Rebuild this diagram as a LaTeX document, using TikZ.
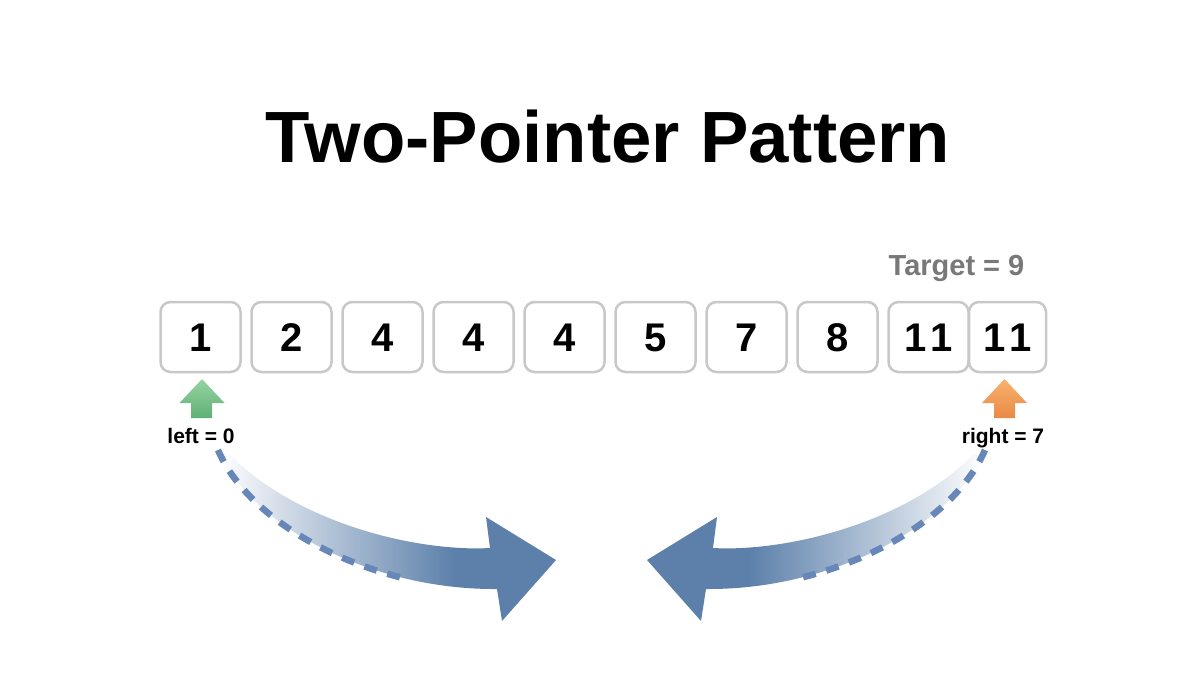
\documentclass[tikz,border=0pt]{standalone}
\usepackage{fontspec}
\setmainfont{Liberation Sans}
\definecolor{boxgray}{RGB}{200,200,200}
\definecolor{arrowblue}{RGB}{92,128,170}
\definecolor{dashblue}{RGB}{104,135,185}
\definecolor{targetgray}{RGB}{120,120,120}
\definecolor{greenA}{RGB}{150,212,160}
\definecolor{greenB}{RGB}{95,175,120}
\definecolor{orangeA}{RGB}{248,178,110}
\definecolor{orangeB}{RGB}{232,138,70}
\pgfdeclarehorizontalshading{arrowfade}{100bp}{color(0bp)=(white); color(25bp)=(white); color(60bp)=(arrowblue); color(100bp)=(arrowblue)}
\begin{document}
\begin{tikzpicture}[x=1pt,y=-1pt,
  cell/.style={draw=boxgray, line width=2.5pt, rounded corners=10pt, fill=white,
    minimum width=80pt, minimum height=70pt, inner sep=0pt,
    text height=28.6pt, text depth=0pt, font=\fontsize{40}{40}\selectfont\bfseries},
  ptrlabel/.style={anchor=base, font=\fontsize{21}{21}\selectfont\bfseries},
  dashpath/.style={draw=dashblue, line width=6.5pt, dash pattern=on 13pt off 11pt}
]
\fill[white] (0,0) rectangle (1200,686);
\useasboundingbox (0,0) rectangle (1200,686);

% title
\node[anchor=base, font=\fontsize{72.6}{80}\selectfont\bfseries] (title) at (608,162) {Two-Pointer Pattern};

% target
\node[anchor=base, text=targetgray, font=\fontsize{29}{29}\selectfont\bfseries] (target) at (956.5,275) {Target = 9};

% array cells
\node[cell] (c1) at (200.5,337) {1};
\node[cell] (c2) at (291.5,337) {2};
\node[cell] (c3) at (382.5,337) {4};
\node[cell] (c4) at (473.5,337) {4};
\node[cell] (c5) at (564.5,337) {4};
\node[cell] (c6) at (655.5,337) {5};
\node[cell] (c7) at (746.5,337) {7};
\node[cell] (c8) at (837.5,337) {8};
\node[cell] (c9) at (928.5,337) {1\kern4pt1};
\node[cell, minimum width=77pt] (c10) at (1007.5,337) {1\kern4pt1};

% pointer arrows
\shade[top color=greenA, bottom color=greenB]
  (202,379) -- (224.5,403) -- (212,403) -- (212,418) -- (191,418) -- (191,403) -- (179.5,403) -- cycle;
\shade[top color=orangeA, bottom color=orangeB]
  (1004.5,379) -- (1027,403) -- (1015,403) -- (1015,418) -- (994,418) -- (994,403) -- (982,403) -- cycle;

% pointer labels
\node[ptrlabel] (lft) at (201,443) {left = 0};
\node[ptrlabel] (rgt) at (1003,443) {right = 7};

% big curved arrows
\shade[shading=arrowfade]
  (230,455) .. controls (300,525) and (420,552) .. (490,548) -- (486,517) -- (556,560)
  -- (502,621) -- (497,589) .. controls (370,590) and (250,525) .. (218,450) -- cycle;
\shade[shading=arrowfade, shading angle=180]
  (973,455) .. controls (903,525) and (783,552) .. (713,548) -- (717,517) -- (647,560)
  -- (701,621) -- (706,589) .. controls (833,590) and (953,525) .. (985,450) -- cycle;

% dashed guides
\coordinate (ls) at (218,450);
\coordinate (le) at (404.3,578.3);
\coordinate (rs) at (985,450);
\coordinate (re) at (798.7,578.3);
\draw[dashpath] (ls) .. controls (242,506.25) and (315.5,556.9) .. (le);
\draw[dashpath] (rs) .. controls (961,506.25) and (887.5,556.9) .. (re);
\end{tikzpicture}
\end{document}
